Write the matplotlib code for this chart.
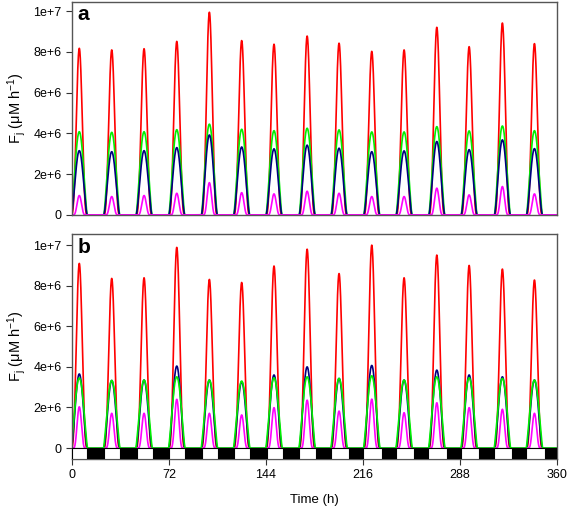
import numpy as np
import matplotlib
matplotlib.use("Agg")
import matplotlib.pyplot as plt
from matplotlib.patches import Rectangle

plt.rcParams['font.family'] = ['Liberation Sans', 'DejaVu Sans']
plt.rcParams['mathtext.fontset'] = 'custom'
plt.rcParams['mathtext.rm'] = 'Liberation Sans'
plt.rcParams['mathtext.it'] = 'Liberation Sans:italic'

# Peak times (h) of the daily pulses
peak_times = [5.4, 29.5, 53.5, 77.8, 102.0, 126.0, 150.0, 174.6, 198.3,
              222.6, 246.6, 270.9, 294.9, 319.6, 343.4]

# Panel a peak values
a_red = [8.17e6, 8.09e6, 8.15e6, 8.51e6, 9.94e6, 8.55e6, 8.37e6, 8.77e6,
         8.42e6, 8.02e6, 8.09e6, 9.20e6, 8.25e6, 9.41e6, 8.40e6]
a_green = [4.08e6, 4.05e6, 4.08e6, 4.18e6, 4.45e6, 4.20e6, 4.13e6, 4.25e6,
           4.17e6, 4.07e6, 4.07e6, 4.33e6, 4.12e6, 4.36e6, 4.13e6]
a_navy = [3.15e6, 3.10e6, 3.15e6, 3.30e6, 3.92e6, 3.33e6, 3.24e6, 3.42e6,
          3.27e6, 3.10e6, 3.14e6, 3.60e6, 3.20e6, 3.68e6, 3.25e6]
a_magenta = [0.95e6, 0.90e6, 0.95e6, 1.06e6, 1.58e6, 1.09e6, 1.03e6, 1.16e6,
             1.06e6, 0.90e6, 0.90e6, 1.31e6, 0.98e6, 1.39e6, 1.03e6]

# Panel b peak values
b_red = [9.10e6, 8.36e6, 8.39e6, 9.89e6, 8.31e6, 8.16e6, 8.97e6, 9.80e6,
         8.60e6, 10.0e6, 8.39e6, 9.51e6, 9.00e6, 8.82e6, 8.28e6]
b_navy = [3.65e6, 3.33e6, 3.35e6, 4.04e6, 3.35e6, 3.27e6, 3.60e6, 4.00e6,
          3.43e6, 4.07e6, 3.35e6, 3.84e6, 3.60e6, 3.51e6, 3.35e6]
b_green = [3.45e6, 3.33e6, 3.35e6, 3.51e6, 3.35e6, 3.30e6, 3.46e6, 3.51e6,
           3.43e6, 3.56e6, 3.35e6, 3.51e6, 3.46e6, 3.43e6, 3.35e6]
b_magenta = [2.03e6, 1.71e6, 1.71e6, 2.40e6, 1.71e6, 1.63e6, 1.99e6, 2.36e6,
             1.82e6, 2.41e6, 1.74e6, 2.23e6, 1.99e6, 1.91e6, 1.71e6]

# Light/dark bar (light on / off times, h)
light_on = [0, 24, 48, 72, 96.3, 120.3, 144.6, 168.8, 192.1, 216.4, 240.4,
            264.7, 288.7, 313.0, 337.0]
light_off = [11.4, 35.6, 59.9, 83.9, 108.2, 132.2, 157.0, 181.2, 205.7, 230.0,
             254.0, 278.3, 302.6, 326.8, 351.3]

xticks = [0, 72, 144, 216, 288, 360]
yticks = [0, 2e6, 4e6, 6e6, 8e6, 1e7]
yticklabels = ['0', '2e+6', '4e+6', '6e+6', '8e+6', '1e+7']

t = np.linspace(0, 360, 7201)


def pulses(peaks, halfwidth, power):
    y = np.zeros_like(t)
    for c, p in zip(peak_times, peaks):
        u = (t - c) / halfwidth
        m = np.abs(u) < 1
        y[m] += p * np.cos(np.pi * u[m] / 2) ** power
    return y


RED, GREEN, NAVY, MAG = '#ff0000', '#00f000', '#000080', '#ff00ff'
lw = 1.2

fig = plt.figure(figsize=(5.67, 5.08), dpi=100)
axa = fig.add_axes([0.127, 0.577, 0.855, 0.419])
axb = fig.add_axes([0.127, 0.0965, 0.855, 0.4425])

# panel a
axa.plot(t, pulses(a_red, 5.9, 3.0), color=RED, lw=lw)
axa.plot(t, pulses(a_green, 5.9, 1.4), color=GREEN, lw=lw)
axa.plot(t, pulses(a_navy, 5.9, 1.6), color=NAVY, lw=lw)
axa.plot(t, pulses(a_magenta, 4.4, 3.0), color=MAG, lw=lw)
axa.set_xlim(0, 360)
axa.set_ylim(0, 1.044e7)
axa.set_xticks([])

# panel b
axb.plot(t, pulses(b_red, 5.9, 3.0), color=RED, lw=lw)
axb.plot(t, pulses(b_navy, 5.9, 1.6), color=NAVY, lw=lw)
axb.plot(t, pulses(b_magenta, 4.4, 3.0), color=MAG, lw=lw)
axb.plot(t, pulses(b_green, 6.1, 1.3), color=GREEN, lw=lw)
axb.set_xlim(0, 360)
ylo = -0.54e6
axb.set_ylim(ylo, 1.054e7)

# LD bar
axb.add_patch(Rectangle((0, ylo), 360, -ylo, facecolor='black',
                        edgecolor='black', lw=0.8, zorder=3))
for on, off in zip(light_on, light_off):
    axb.add_patch(Rectangle((on, ylo), off - on, -ylo, facecolor='white',
                            edgecolor='black', lw=0.8, zorder=4))
axb.set_xticks(xticks)
axb.set_xticklabels([str(v) for v in xticks])
axb.set_xlabel('Time (h)', fontsize=9.5, labelpad=9)

for ax, lab in ((axa, 'a'), (axb, 'b')):
    ax.set_yticks(yticks)
    ax.set_yticklabels(yticklabels)
    ax.tick_params(direction='out', length=4, width=0.8, labelsize=9,
                   color='#333333')
    for s in ax.spines.values():
        s.set_color('#555555')
        s.set_linewidth(1.0)
    ax.set_ylabel('F$_{\\mathrm{j}}$ (μM h$^{-1}$)', fontsize=10.5, labelpad=4)
    ax.text(0.012, 0.985, lab, transform=ax.transAxes, fontsize=15,
            fontweight='bold', va='top', ha='left')

fig.savefig('out.png', dpi=100)
